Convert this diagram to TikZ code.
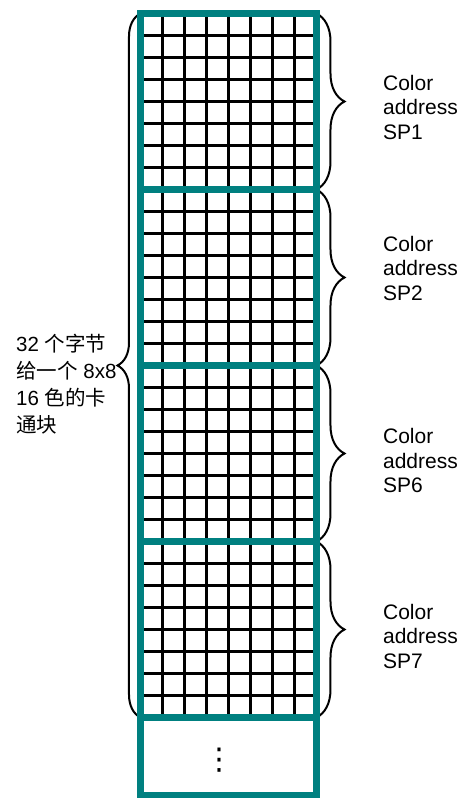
\documentclass[tikz,border=0pt]{standalone}
\usepackage{fontspec}
\setmainfont{Liberation Sans}
\newfontfamily\cjk{Noto Sans CJK SC}
\newfontfamily\symfont{DejaVu Sans}
\usepackage{tikz}
\usetikzlibrary{decorations.pathreplacing}
\definecolor{blockteal}{RGB}{0,128,128}

\begin{document}
\begin{tikzpicture}[x=22pt,y=22pt,
    grid line/.style={line width=2.2pt},
    block border/.style={draw=blockteal,line width=7pt},
    cbrace/.style={decorate,decoration={brace,amplitude=#1},line width=2pt},
    lbl/.style={font=\fontsize{21}{24.5}\selectfont,align=left,anchor=west,inner sep=0pt}]
  \useasboundingbox (-6.386,0.614) rectangle (14.568,-35.659);
  % corners of the 8x8 blocks
  \foreach \i in {0,...,4} {
    \coordinate (L\i) at (0,-8*\i);
    \coordinate (R\i) at (8,-8*\i);
  }
  \coordinate (Lend) at (0,-35.55);
  \coordinate (Rend) at (8,-35.55);
  % cells
  \draw[grid line,step=1] (L0) grid (R4);
  % braces
  \draw[cbrace=23pt] (L4) -- (L0);
  \foreach \i [evaluate=\i as \j using int(\i+1)] in {0,...,3}
    \draw[cbrace=28pt] (R\i) -- (R\j);
  % block borders
  \foreach \i [evaluate=\i as \j using int(\i+1)] in {0,...,3}
    \draw[block border] (L\i) rectangle (R\j);
  \draw[block border] (L4) rectangle (Rend);
  % labels
  \foreach \i/\nm/\ty in {1/SP1/-4.25,2/SP2/-11.57,3/SP6/-20.34,4/SP7/-28.3}
    \node[lbl] (addr\i) at (11.02,\ty) {Color\\address\\\nm};
  \node[lbl,font=\fontsize{20.5}{27}\selectfont] (desc) at (-5.66,-16.84)
    {32 {\cjk 个字节}\\{\cjk 给一个} 8x8\\16 {\cjk 色的卡}\\{\cjk 通块}};
  \node[font=\fontsize{30}{30}\symfont,inner sep=0pt] (more) at (3.57,-33.93) {⋮};
\end{tikzpicture}
\end{document}
